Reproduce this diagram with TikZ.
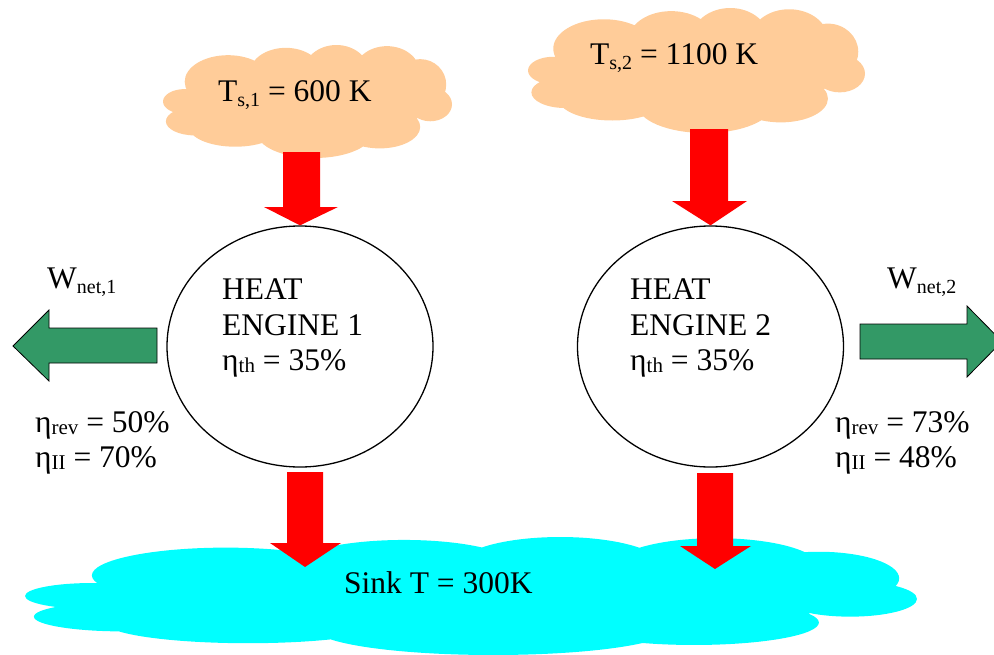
\documentclass[tikz,border=0pt]{standalone}
\usepackage{fontspec}
\setmainfont{Liberation Serif}
\usetikzlibrary{shapes.geometric}
\definecolor{srccol}{HTML}{FFCC99}
\definecolor{sinkcol}{HTML}{00FFFF}
\definecolor{workcol}{HTML}{339966}
\definecolor{heatcol}{HTML}{FF0000}
\newcommand\lowsub[1]{\raisebox{-5pt}{\fontsize{20}{20}\selectfont #1}}
\newcommand\etasub[1]{\raisebox{-2pt}{\fontsize{21}{21}\selectfont #1}}
\tikzset{
  lbl/.style={anchor=base west, inner sep=0pt, font=\fontsize{31.5}{36}\selectfont},
  engine/.style={ellipse, draw=black, line width=1.3pt, fill=white, inner sep=0pt},
  heatarrow/.style={fill=heatcol, draw=none},
  workarrow/.style={fill=workcol, draw=black, line width=0.8pt},
  cloudpic/.pic={
    \fill[pic actions]
      (0,0) ellipse [x radius=.85, y radius=.65]
      (-0.85,0) ellipse [x radius=.15, y radius=.22]
      (-0.78,0.35) ellipse [x radius=.2, y radius=.25]
      (-0.55,-0.35) ellipse [x radius=.3, y radius=.47]
      (-0.15,-0.5) ellipse [x radius=.25, y radius=.45]
      (0.2,-0.5) ellipse [x radius=.23, y radius=.5]
      (0.55,-0.5) ellipse [x radius=.23, y radius=.48]
      (0.78,-0.3) ellipse [x radius=.18, y radius=.45]
      (0.85,0.05) ellipse [x radius=.15, y radius=.3]
      (0.5,0.45) ellipse [x radius=.28, y radius=.38]
      (0.05,0.55) ellipse [x radius=.4, y radius=.45]
      (-0.5,0.45) ellipse [x radius=.32, y radius=.35];
  },
}
\begin{document}
\begin{tikzpicture}[x=1pt,y=-1pt]
\useasboundingbox (0,0) rectangle (994,654);
\clip (0,0) rectangle (994,654);
% clouds
\coordinate (src1) at (307.5,101.5);
\coordinate (src2) at (696.5,70.5);
\coordinate (sink) at (471,596);
\pic[fill=srccol, xscale=144.5, yscale=56.5] at (src1) {cloudpic};
\pic[fill=srccol, xscale=168.5, yscale=62.5] at (src2) {cloudpic};
\pic[fill=sinkcol, xscale=446, yscale=59] at (sink) {cloudpic};
% engines
\node[engine, minimum width=266pt, minimum height=241pt] (eng1) at (300,346.5) {};
\node[engine, minimum width=266pt, minimum height=241pt] (eng2) at (710.5,346.5) {};
% heat arrows in
\fill[heatarrow] (283,152) -- (320,152) -- (320,207) -- (338,207) -- (eng1.north) -- (264,207) -- (283,207) -- cycle;
\fill[heatarrow] (690,129) -- (728,129) -- (728,201) -- (747,201) -- (eng2.north) -- (672,201) -- (690,201) -- cycle;
% heat arrows out
\fill[heatarrow] (287,472) -- (323,472) -- (323,543) -- (341,543) -- (305,567) -- (270,543) -- (287,543) -- cycle;
\fill[heatarrow] (697,473) -- (733,473) -- (733,546) -- (751,546) -- (715,569) -- (680,546) -- (697,546) -- cycle;
% work arrows
\draw[workarrow] (157,328) -- (49,328) -- (49,310) -- (13,346) -- (49,381) -- (49,363) -- (157,363) -- cycle;
\draw[workarrow] (860,324) -- (967,324) -- (967,306) -- (1002,341.5) -- (967,377) -- (967,359) -- (860,359) -- cycle;
% texts
\node[lbl] (t1) at (218,101) {T\lowsub{s,1} = 600 K};
\node[lbl] (t2) at (590,64) {T\lowsub{s,2} = 1100 K};
\node[lbl] (e1a) at (222,299) {HEAT};
\node[lbl] (e1b) at (222,335) {ENGINE 1};
\node[lbl] (e1c) at (222,370) {η\etasub{th} = 35\%};
\node[lbl] (e2a) at (630,299) {HEAT};
\node[lbl] (e2b) at (630,335) {ENGINE 2};
\node[lbl] (e2c) at (630,370) {η\etasub{th} = 35\%};
\node[lbl] (w1) at (47,288) {W\lowsub{net,1}};
\node[lbl] (w2) at (887,288) {W\lowsub{net,2}};
\node[lbl] (r1) at (35,432) {η\etasub{rev} = 50\%};
\node[lbl] (s1) at (35,467) {η\etasub{II} = 70\%};
\node[lbl] (r2) at (835,432) {η\etasub{rev} = 73\%};
\node[lbl] (s2) at (835,467) {η\etasub{II} = 48\%};
\node[lbl] (sk) at (344,593) {Sink T = 300K};
\end{tikzpicture}
\end{document}
